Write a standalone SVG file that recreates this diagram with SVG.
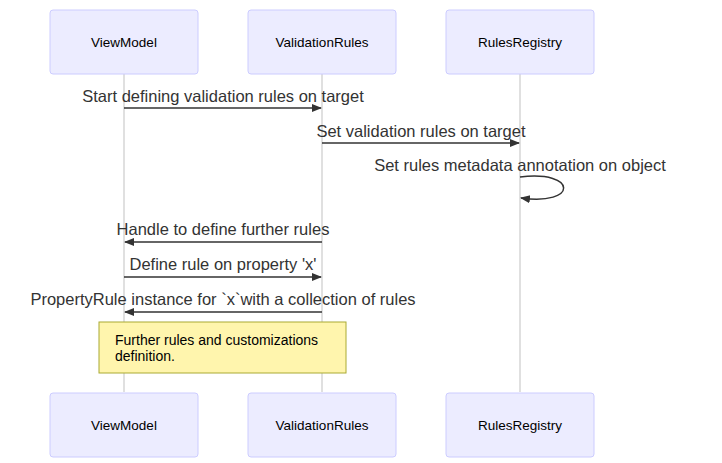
<svg xmlns="http://www.w3.org/2000/svg" width="722" height="463" viewBox="0 0 722 463">
<style>
.actor{fill:#ECECFF;stroke:#CCCCFF;stroke-width:1}
.atext{font-family:"Liberation Sans",Arial,sans-serif;font-size:13.5px;fill:#000;text-anchor:middle}
.life{stroke:#cccccc;stroke-width:1.2}
.msg{stroke:#333;stroke-width:1.5;fill:none}
.mtext{font-family:"Liberation Sans",Arial,sans-serif;font-size:16.5px;fill:#333;text-anchor:middle}
.note{fill:#fff5ad;stroke:#aaaa33;stroke-width:1}
.ntext{font-family:"Liberation Sans",Arial,sans-serif;font-size:14px;fill:#000}
</style>
<defs>
<marker id="ah" viewBox="0 0 10 10" refX="9" refY="5" markerWidth="10" markerHeight="10" markerUnits="userSpaceOnUse" orient="auto">
<path d="M0,1 L10,5 L0,9 z" fill="#333"/>
</marker>
</defs>
<rect width="722" height="463" fill="#fff"/>
<g id="lifelines">
<line class="life" x1="124" y1="74" x2="124" y2="392"/>
<line class="life" x1="322" y1="74" x2="322" y2="392"/>
<line class="life" x1="520" y1="74" x2="520" y2="392"/>
</g>
<g id="actor-ViewModel-top"><rect class="actor" x="50" y="10" width="148" height="64" rx="3"/><text class="atext" x="124" y="47">ViewModel</text></g>
<g id="actor-ValidationRules-top"><rect class="actor" x="248" y="10" width="148" height="64" rx="3"/><text class="atext" x="322" y="47">ValidationRules</text></g>
<g id="actor-RulesRegistry-top"><rect class="actor" x="446" y="10" width="148" height="64" rx="3"/><text class="atext" x="520" y="47">RulesRegistry</text></g>
<g id="actor-ViewModel-bottom"><rect class="actor" x="50" y="393" width="148" height="64" rx="3"/><text class="atext" x="124" y="430">ViewModel</text></g>
<g id="actor-ValidationRules-bottom"><rect class="actor" x="248" y="393" width="148" height="64" rx="3"/><text class="atext" x="322" y="430">ValidationRules</text></g>
<g id="actor-RulesRegistry-bottom"><rect class="actor" x="446" y="393" width="148" height="64" rx="3"/><text class="atext" x="520" y="430">RulesRegistry</text></g>
<g id="connectors">
<line class="msg" x1="124" y1="108" x2="321" y2="108" marker-end="url(#ah)"/>
<text class="mtext" x="223" y="102">Start defining validation rules on target</text>
<line class="msg" x1="322" y1="143" x2="519" y2="143" marker-end="url(#ah)"/>
<text class="mtext" x="421" y="137">Set validation rules on target</text>
<path class="msg" d="M520,177 C578,170 578,206 521,198" marker-end="url(#ah)"/>
<text class="mtext" x="520" y="171">Set rules metadata annotation on object</text>
<line class="msg" x1="322" y1="242" x2="125" y2="242" marker-end="url(#ah)"/>
<text class="mtext" x="223" y="235">Handle to define further rules</text>
<line class="msg" x1="124" y1="277" x2="321" y2="277" marker-end="url(#ah)"/>
<text class="mtext" x="223" y="270">Define rule on property 'x'</text>
<line class="msg" x1="322" y1="312" x2="125" y2="312" marker-end="url(#ah)"/>
<text class="mtext" x="223" y="305">PropertyRule instance for `x`with a collection of rules</text>
</g>
<g id="note">
<rect class="note" x="99" y="322" width="247" height="51"/>
<text class="ntext" x="115" y="345">Further rules and customizations</text>
<text class="ntext" x="115" y="361">definition.</text>
</g>
</svg>
